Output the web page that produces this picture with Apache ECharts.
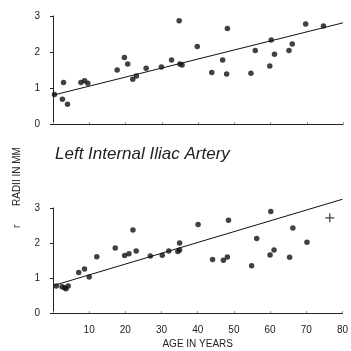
<!DOCTYPE html>
<html>
<head>
<meta charset="utf-8">
<script src="https://cdn.jsdelivr.net/npm/echarts@6/dist/echarts.min.js"></script>
<style>
  html, body { margin: 0; padding: 0; background: #fff; }
  #chart { width: 351px; height: 351px; }
</style>
</head>
<body>
<div id="chart"></div>
<script>
// radii (mm) vs age (years)
const topPoints = [
  [0.4, 0.82], [2.9, 1.15], [2.6, 0.69], [4, 0.55], [7.7, 1.15], [8.7, 1.2],
  [9.6, 1.13], [17.7, 1.5], [19.7, 1.85], [20.6, 1.67], [22, 1.24], [23, 1.33],
  [25.7, 1.55], [29.9, 1.58], [32.7, 1.78], [34.8, 2.87], [35, 1.67], [35.6, 1.64],
  [39.8, 2.15], [43.8, 1.43], [46.8, 1.78], [48.1, 2.65], [47.9, 1.39], [54.6, 1.41],
  [55.8, 2.04], [59.8, 1.61], [60.2, 2.33], [61.1, 1.94], [65.1, 2.04], [66, 2.22],
  [69.7, 2.78], [74.6, 2.72]
]
const topFit = [[0, 0.8], [80, 2.81]]

const bottomPoints = [
  [0.9, 0.77], [2.5, 0.75], [3.2, 0.72], [3.6, 0.69], [4.2, 0.77], [7.1, 1.16],
  [8.7, 1.26], [10, 1.03], [12.1, 1.61], [17.2, 1.86], [19.8, 1.64], [21, 1.69],
  [22.1, 2.37], [23, 1.77], [26.9, 1.63], [30.2, 1.65], [32, 1.77], [35, 2.0],
  [35, 1.8], [34.5, 1.76], [40.1, 2.53], [44.1, 1.53], [47.1, 1.51], [48.2, 1.6],
  [48.5, 2.65], [54.9, 1.35], [56.3, 2.13], [60, 1.66], [60.2, 2.9], [61.1, 1.8],
  [65.4, 1.59], [66.3, 2.43], [70.2, 2.02]
]
const bottomPlus = [[76.5, 2.72]]
const bottomFit = [[0, 0.78], [80, 3.25]]

const ink = '#222'
const font = 'Liberation Sans, Arial, sans-serif'
const plusPath = 'path://M4.3,0H5.7V4.3H10V5.7H5.7V10H4.3V5.7H0V4.3H4.3Z'

function xAxis(gridIndex, showLabels) {
  return {
    gridIndex, type: 'value', min: 0, max: 80, interval: 10,
    splitLine: { show: false },
    axisLine: { lineStyle: { color: ink, width: 1 } },
    axisTick: { show: true, inside: true, length: 2, lineStyle: { color: '#999' } },
    axisLabel: {
      show: showLabels, color: ink, fontSize: 10, fontFamily: font, margin: 12,
      formatter: (v) => (v === 0 ? '' : v)
    },
    name: showLabels ? 'AGE IN YEARS' : '',
    nameLocation: 'middle', nameGap: 26,
    nameTextStyle: { color: ink, fontSize: 10, fontFamily: font }
  }
}

function yAxis(gridIndex) {
  return {
    gridIndex, type: 'value', min: 0, max: 3, interval: 1,
    splitLine: { show: false },
    axisLine: { show: true, lineStyle: { color: ink, width: 1 } },
    axisTick: { show: true, length: 3, lineStyle: { color: ink } },
    axisLabel: { color: ink, fontSize: 10, fontFamily: font, margin: 13 }
  }
}

function dots(i, data) {
  return {
    type: 'scatter', xAxisIndex: i, yAxisIndex: i, data,
    symbolSize: 5.5, itemStyle: { color: '#111' }, silent: true
  }
}

function fit(i, data) {
  return {
    type: 'line', xAxisIndex: i, yAxisIndex: i, data, clip: false,
    symbol: 'none', lineStyle: { color: '#111', width: 1 }, silent: true
  }
}

const chart = echarts.init(document.getElementById('chart'))
chart.setOption({
  animation: false,
  backgroundColor: '#fff',
  grid: [
    { left: 53, right: 8, top: 16, height: 108 },
    { left: 53, right: 8, top: 208, height: 105 }
  ],
  xAxis: [xAxis(0, false), xAxis(1, true)],
  yAxis: [yAxis(0), yAxis(1)],
  graphic: [
    {
      type: 'text', left: 55, top: 146,
      style: {
        text: 'Left Internal Iliac Artery', fill: ink,
        font: 'italic 17px ' + font
      }
    },
    {
      type: 'text', x: 12, y: 206, rotation: Math.PI / 2,
      style: { text: 'RADII IN MM', fill: ink, font: '10px ' + font }
    },
    {
      type: 'text', x: 12, y: 228, rotation: Math.PI / 2,
      style: { text: 'r', fill: ink, font: '10px ' + font }
    }
  ],
  series: [
    fit(0, topFit),
    dots(0, topPoints),
    fit(1, bottomFit),
    dots(1, bottomPoints),
    {
      type: 'scatter', xAxisIndex: 1, yAxisIndex: 1, data: bottomPlus,
      symbol: plusPath, symbolSize: 9, itemStyle: { color: '#111' }, silent: true
    }
  ]
})
</script>
</body>
</html>
